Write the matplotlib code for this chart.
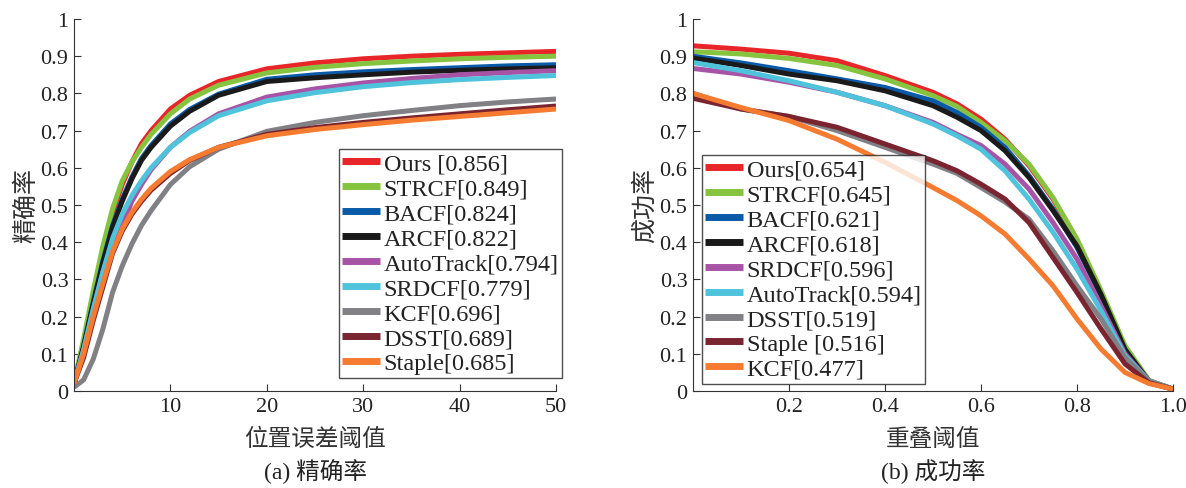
import numpy as np
import matplotlib
matplotlib.use('Agg')
import matplotlib.pyplot as plt

plt.rcParams['font.family'] = ['Liberation Serif', 'Noto Sans CJK SC']
plt.rcParams['axes.unicode_minus'] = False

# ---- 精确率 (precision) ----
prec_x = [0, 1, 2, 3, 4, 5, 6, 7, 8, 10, 12, 15, 20, 25, 30, 35, 40, 45, 50]
prec_names = ['Ours [0.856]', 'STRCF[0.849]', 'BACF[0.824]', 'ARCF[0.822]',
              'AutoTrack[0.794]', 'SRDCF[0.779]', 'KCF[0.696]', 'DSST[0.689]',
              'Staple[0.685]']
prec_ours = [0.02, 0.13, 0.26, 0.38, 0.48, 0.555, 0.615, 0.665, 0.70, 0.758, 0.795, 0.832, 0.866, 0.882, 0.893, 0.900, 0.905, 0.909, 0.913]
prec_strcf = [0.02, 0.14, 0.27, 0.39, 0.49, 0.565, 0.615, 0.655, 0.69, 0.745, 0.785, 0.822, 0.855, 0.870, 0.880, 0.887, 0.893, 0.897, 0.900]
prec_bacf = [0.02, 0.12, 0.24, 0.35, 0.445, 0.515, 0.575, 0.625, 0.66, 0.718, 0.757, 0.798, 0.838, 0.850, 0.858, 0.864, 0.869, 0.874, 0.877]
prec_arcf = [0.02, 0.12, 0.235, 0.345, 0.44, 0.51, 0.57, 0.62, 0.655, 0.712, 0.752, 0.795, 0.832, 0.842, 0.850, 0.857, 0.862, 0.866, 0.869]
prec_autotrack = [0.02, 0.11, 0.22, 0.32, 0.40, 0.445, 0.51, 0.555, 0.595, 0.655, 0.698, 0.745, 0.790, 0.812, 0.828, 0.840, 0.850, 0.856, 0.861]
prec_srdcf = [0.02, 0.11, 0.22, 0.32, 0.41, 0.475, 0.525, 0.565, 0.60, 0.655, 0.695, 0.74, 0.78, 0.802, 0.818, 0.829, 0.837, 0.843, 0.848]
prec_kcf = [0.01, 0.03, 0.086, 0.167, 0.265, 0.336, 0.395, 0.445, 0.485, 0.555, 0.603, 0.65, 0.698, 0.722, 0.740, 0.754, 0.767, 0.777, 0.785]
prec_dsst = [0.02, 0.09, 0.19, 0.28, 0.37, 0.43, 0.475, 0.51, 0.54, 0.585, 0.62, 0.655, 0.690, 0.708, 0.722, 0.734, 0.745, 0.756, 0.766]
prec_staple = [0.02, 0.10, 0.20, 0.29, 0.375, 0.435, 0.48, 0.515, 0.545, 0.59, 0.622, 0.655, 0.686, 0.703, 0.716, 0.728, 0.738, 0.748, 0.758]

# ---- 成功率 (success) ----
succ_x = [0, 0.1, 0.2, 0.3, 0.4, 0.5, 0.55, 0.6, 0.65, 0.7, 0.75, 0.8, 0.85, 0.9, 0.95, 1.0]
succ_names = ['Ours[0.654]', 'STRCF[0.645]', 'BACF[0.621]', 'ARCF[0.618]',
              'SRDCF[0.596]', 'AutoTrack[0.594]', 'DSST[0.519]', 'Staple [0.516]',
              'KCF[0.477]']
succ_ours = [0.928, 0.919, 0.908, 0.888, 0.848, 0.803, 0.772, 0.731, 0.677, 0.606, 0.516, 0.404, 0.265, 0.117, 0.028, 0.005]
succ_strcf = [0.912, 0.906, 0.894, 0.875, 0.839, 0.794, 0.765, 0.722, 0.673, 0.610, 0.520, 0.409, 0.270, 0.122, 0.028, 0.005]
succ_bacf = [0.90, 0.882, 0.861, 0.839, 0.816, 0.780, 0.749, 0.709, 0.655, 0.579, 0.489, 0.386, 0.256, 0.108, 0.025, 0.005]
succ_arcf = [0.895, 0.875, 0.852, 0.834, 0.807, 0.767, 0.736, 0.700, 0.646, 0.574, 0.485, 0.390, 0.260, 0.112, 0.026, 0.005]
succ_srdcf = [0.867, 0.852, 0.830, 0.803, 0.767, 0.722, 0.690, 0.660, 0.610, 0.543, 0.453, 0.355, 0.229, 0.100, 0.027, 0.005]
succ_autotrack = [0.883, 0.861, 0.834, 0.803, 0.767, 0.718, 0.686, 0.650, 0.592, 0.516, 0.427, 0.328, 0.216, 0.095, 0.027, 0.005]
succ_dsst = [0.80, 0.758, 0.738, 0.700, 0.655, 0.610, 0.585, 0.547, 0.508, 0.462, 0.377, 0.283, 0.194, 0.090, 0.026, 0.005]
succ_staple = [0.787, 0.758, 0.738, 0.709, 0.664, 0.619, 0.592, 0.556, 0.516, 0.453, 0.359, 0.265, 0.167, 0.073, 0.022, 0.005]
succ_kcf = [0.80, 0.762, 0.727, 0.677, 0.615, 0.547, 0.512, 0.471, 0.422, 0.355, 0.283, 0.194, 0.113, 0.050, 0.020, 0.005]

c_red = '#e8262a'
c_green = '#86c440'
c_blue = '#0b5aa8'
c_black = '#1a1a1a'
c_purple = '#a854a6'
c_cyan = '#4fc3dc'
c_gray = '#808085'
c_darkred = '#7a2430'
c_orange = '#f47b30'
colors = [c_red, c_green, c_blue, c_black, c_purple, c_cyan, c_gray, c_darkred, c_orange]

prec_data = [prec_ours, prec_strcf, prec_bacf, prec_arcf, prec_autotrack,
             prec_srdcf, prec_kcf, prec_dsst, prec_staple]
succ_data = [succ_ours, succ_strcf, succ_bacf, succ_arcf, succ_srdcf,
             succ_autotrack, succ_dsst, succ_staple, succ_kcf]

fig = plt.figure(figsize=(11.86, 4.89), dpi=100)
ax1 = fig.add_axes([0.0624, 0.1984, 0.4064, 0.7607])
ax2 = fig.add_axes([0.5843, 0.1984, 0.4047, 0.7607])

yticks = np.arange(0, 1.01, 0.1)
ylabels = ['0'] + ['%.1f' % v for v in yticks[1:-1]] + ['1']

for ax in (ax1, ax2):
    ax.spines['top'].set_visible(False)
    ax.spines['right'].set_visible(False)
    ax.spines['left'].set_color('#333333')
    ax.spines['bottom'].set_color('#333333')
    ax.set_ylim(0, 1)
    ax.set_yticks(yticks)
    ax.set_yticklabels(ylabels)
    ax.tick_params(direction='in', length=5, labelsize=16, pad=4,
                   color='#333333', labelcolor='#222222')


def add_legend(ax, loc, anchor):
    leg = ax.legend(loc=loc, bbox_to_anchor=anchor, fontsize=17.5,
                    frameon=True, fancybox=False, edgecolor='#222222',
                    handlelength=1.55, handletextpad=0.15, labelspacing=0.12,
                    borderpad=0.15, borderaxespad=0)
    leg.get_frame().set_linewidth(1.0)
    for line in leg.get_lines():
        line.set_linewidth(5)
    for t in leg.get_texts():
        t.set_color('#222222')
    return leg


for ys, c, n in zip(prec_data, colors, prec_names):
    ax1.plot(prec_x, ys, color=c, lw=3.6, label=n, solid_capstyle='butt')
ax1.set_xlim(0, 50)
ax1.set_xticks([10, 20, 30, 40, 50])
ax1.set_xlabel('位置误差阈值', fontsize=17, labelpad=9, color='#333333')
ax1.set_ylabel('精确率', fontsize=18, labelpad=2, color='#333333')
add_legend(ax1, 'lower right', (1.013, 0.035))

for ys, c, n in zip(succ_data, colors, succ_names):
    ax2.plot(succ_x, ys, color=c, lw=3.6, label=n, solid_capstyle='butt')
ax2.set_xlim(0, 1.0)
ax2.set_xticks([0.2, 0.4, 0.6, 0.8, 1.0])
ax2.set_xticklabels(['0.2', '0.4', '0.6', '0.8', '1.0'])
ax2.set_xlabel('重叠阈值', fontsize=17, labelpad=9, color='#333333')
ax2.set_ylabel('成功率', fontsize=18, labelpad=2, color='#333333')
add_legend(ax2, 'lower left', (0.018, 0.02))

fig.text(0.2656, 0.035, '(a) 精确率', ha='center', va='center', fontsize=17, color='#222222')
fig.text(0.7867, 0.035, '(b) 成功率', ha='center', va='center', fontsize=17, color='#222222')

fig.savefig('out.png', dpi=100)
